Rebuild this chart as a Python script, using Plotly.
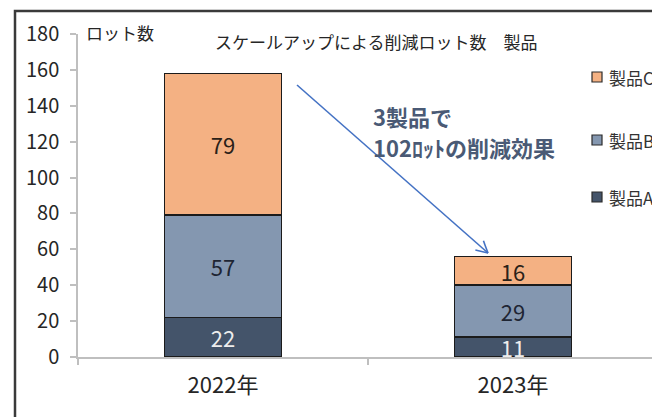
import math
import plotly.graph_objects as go

# ---- data ----
years = ["2022年", "2023年"]
series_names = ["製品A", "製品B", "製品C"]
series_values = {
    "製品A": [22, 11],
    "製品B": [57, 29],
    "製品C": [79, 16],
}
y_ticks = [0, 20, 40, 60, 80, 100, 120, 140, 160, 180]

# ---- style ----
colors = {"製品A": "#44546A", "製品B": "#8497B0", "製品C": "#F4B183"}
label_colors = {"製品A": "#EDEDED", "製品B": "#1E2533", "製品C": "#2A2118"}
FONT = "Noto Sans CJK JP"

W, H = 652, 417
L, R, T, B = 78, 0, 34, 60
PW, PH = W - L - R, H - T - B


def px(x):
    return (x - L) / PW


def py(y):
    return (H - B - y) / PH


fig = go.Figure()
for name in series_names:
    fig.add_trace(go.Bar(
        x=years, y=series_values[name], name=name,
        marker=dict(color=colors[name], line=dict(color="#1b1b1b", width=1.6)),
        width=0.403,
        text=series_values[name], textposition="inside", textangle=0,
        insidetextanchor="middle", constraintext="none",
        textfont=dict(family=FONT, size=22, color=label_colors[name]),
        showlegend=False,
    ))

shapes = []
annotations = []

# outer frame
shapes.append(dict(type="rect", xref="paper", yref="paper",
                   x0=px(15), x1=px(700), y0=py(460), y1=py(11),
                   line=dict(color="#3a3a3a", width=2.5), fillcolor="rgba(0,0,0,0)", layer="above"))

# manual legend (top to bottom: C, B, A)
legend_y = [77, 140, 197]
for name, yy in zip(reversed(series_names), legend_y):
    shapes.append(dict(type="rect", xref="paper", yref="paper",
                       x0=px(592), x1=px(602), y0=py(yy + 5), y1=py(yy - 5),
                       fillcolor=colors[name], line=dict(color="#2b2b2b", width=1.2)))
    annotations.append(dict(text=name, xref="paper", yref="paper",
                            x=px(607), y=py(yy), xanchor="left", yanchor="middle",
                            showarrow=False, font=dict(family=FONT, size=17, color="#333333")))

# title and axis title
annotations.append(dict(text="スケールアップによる削減ロット数　製品", xref="paper", yref="paper",
                        x=px(376), y=py(42), xanchor="center", yanchor="middle", showarrow=False,
                        font=dict(family=FONT, size=17, color="#262626")))
annotations.append(dict(text="ロット数", xref="paper", yref="paper",
                        x=px(84), y=py(33), xanchor="left", yanchor="middle", showarrow=False,
                        font=dict(family=FONT, size=17, color="#262626")))

# callout text (two lines)
annotations.append(dict(text="<b>3製品で</b>", xref="paper", yref="paper",
                        x=px(371), y=py(116), xanchor="left", yanchor="middle", align="left",
                        showarrow=False,
                        font=dict(family=FONT, size=22, color="#4A5A75")))
annotations.append(dict(text="<b>102ﾛｯﾄの削減効果</b>", xref="paper", yref="paper",
                        x=px(371), y=py(147), xanchor="left", yanchor="middle", align="left",
                        showarrow=False,
                        font=dict(family=FONT, size=22, color="#4A5A75")))

# arrow (line + open head)
x0, y0, x1, y1 = 297, 85, 488, 253
shapes.append(dict(type="line", xref="paper", yref="paper",
                   x0=px(x0), y0=py(y0), x1=px(x1), y1=py(y1),
                   line=dict(color="#4472C4", width=1.6)))
ang = math.atan2(y1 - y0, x1 - x0)
for d in (math.radians(28), -math.radians(28)):
    hx = x1 - 13 * math.cos(ang + d)
    hy = y1 - 13 * math.sin(ang + d)
    shapes.append(dict(type="line", xref="paper", yref="paper",
                       x0=px(hx), y0=py(hy), x1=px(x1), y1=py(y1),
                       line=dict(color="#4472C4", width=1.6)))

fig.update_layout(
    width=W, height=H,
    margin=dict(l=L, r=R, t=T, b=B, pad=0),
    barmode="stack",
    plot_bgcolor="white", paper_bgcolor="white",
    font=dict(family=FONT, color="#262626"),
    shapes=shapes, annotations=annotations,
    xaxis=dict(
        type="category", range=[-0.5, -0.5 + PW / 290],
        showline=True, linecolor="#BFBFBF", linewidth=1.5,
        ticks="outside", tickson="boundaries", ticklen=6, tickcolor="#BFBFBF", tickwidth=1.5,
        tickfont=dict(family=FONT, size=22, color="#262626"),
        ticklabelstandoff=8, showgrid=False, zeroline=False, fixedrange=True,
    ),
    yaxis=dict(
        range=[0, 180], tickvals=y_ticks,
        showline=True, linecolor="#BFBFBF", linewidth=1.5,
        ticks="outside", ticklen=6, tickcolor="#BFBFBF", tickwidth=1.5,
        tickfont=dict(family=FONT, size=20, color="#262626"),
        ticklabelstandoff=7, showgrid=False, zeroline=False, fixedrange=True,
    ),
)

fig.write_html("out.html", config={"displayModeBar": False})
